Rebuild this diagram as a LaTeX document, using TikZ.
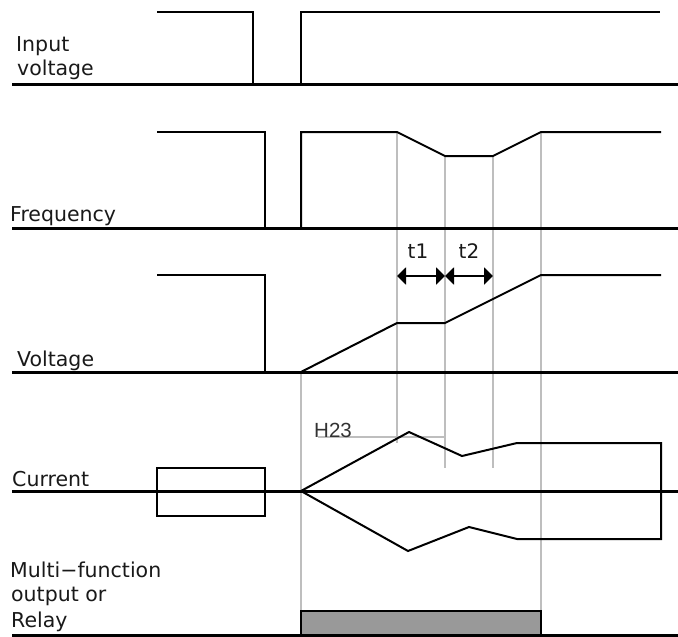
\documentclass[tikz,border=0pt]{standalone}
\usepackage{fontspec}
\setmainfont{DejaVu Sans}
\newfontfamily\hfont{Liberation Sans}
\usetikzlibrary{arrows.meta}
\definecolor{guidegray}{RGB}{190,190,190}
\definecolor{barfill}{RGB}{153,153,153}
\tikzset{
  baseline axis/.style={line width=3pt, black},
  wave/.style={line width=2pt, black, line join=miter},
  guide/.style={line width=1.5pt, guidegray},
  lbl/.style={inner sep=0pt, anchor=base west, font=\fontsize{20.5}{24}\selectfont, text=black!90},
  tlbl/.style={inner sep=0pt, anchor=base, font=\fontsize{20}{22}\selectfont, text=black!90},
  hlbl/.style={inner sep=0pt, anchor=base west, font=\hfont\fontsize{20.5}{23}\selectfont, text=black!80},
  dim/.style={line width=2pt, {Triangle[length=9pt,width=17pt]}-{Triangle[length=9pt,width=17pt]}}
}
\begin{document}
\begin{tikzpicture}[x=1pt,y=-1pt]
\useasboundingbox (0,0) rectangle (678,637);
% ---------- guide lines ----------
\draw[guide] (397,132) -- (397,443);
\draw[guide] (445,156) -- (445,468);
\draw[guide] (493,156) -- (493,468);
\draw[guide] (541,132) -- (541,611);
\draw[guide] (301,372) -- (301,611);
\draw[guide] (318,437) -- (445,437);
% ---------- input voltage ----------
\node[lbl] (in1) at (16,51) {Input};
\node[lbl] (in2) at (17,75) {voltage};
\draw[wave] (157,12) -- (253,12) -- (253,84);
\draw[wave] (301,84) -- (301,12) -- (660,12);
\draw[baseline axis] (12,84) -- (678,84);
% ---------- frequency ----------
\node[lbl] (fr) at (10,221) {Frequency};
\draw[wave] (157,132) -- (265,132) -- (265,228);
\draw[wave] (301,228) -- (301,132) -- (397,132) -- (445,156) -- (493,156) -- (541,132) -- (661,132);
\draw[baseline axis] (12,228) -- (678,228);
% ---------- t1 t2 ----------
\node[tlbl] (t1) at (418,258) {t1};
\node[tlbl] (t2) at (469,258) {t2};
\coordinate (a1) at (397,276);
\coordinate (a2) at (445,276);
\coordinate (a3) at (493,276);
\draw[dim] (a1) -- (a2);
\draw[dim] (a2) -- (a3);
% ---------- voltage ----------
\node[lbl] (vo) at (17,366) {Voltage};
\draw[wave] (157,275) -- (265,275) -- (265,372);
\draw[wave] (301,372) -- (397,323) -- (445,323) -- (541,275) -- (661,275);
\draw[baseline axis] (12,372) -- (678,372);
% ---------- current ----------
\node[lbl] (cu) at (12,486) {Current};
\node[hlbl] (h23) at (314,437) {H23};
\draw[wave] (157,468) rectangle (265,516);
\draw[wave] (301,491) -- (409,432) -- (462,456) -- (517,443) -- (661,443) -- (661,539) -- (517,539) -- (469,527) -- (408,551) -- cycle;
\draw[baseline axis] (12,491) -- (678,491);
% ---------- relay ----------
\node[lbl] (m1) at (10,577) {Multi−function};
\node[lbl] (m2) at (11,601) {output or};
\node[lbl] (m3) at (11,627) {Relay};
\draw[line width=1.5pt, fill=barfill] (301,635) -- (301,611) -- (541,611) -- (541,635);
\draw[baseline axis] (12,635) -- (678,635);
\end{tikzpicture}
\end{document}
